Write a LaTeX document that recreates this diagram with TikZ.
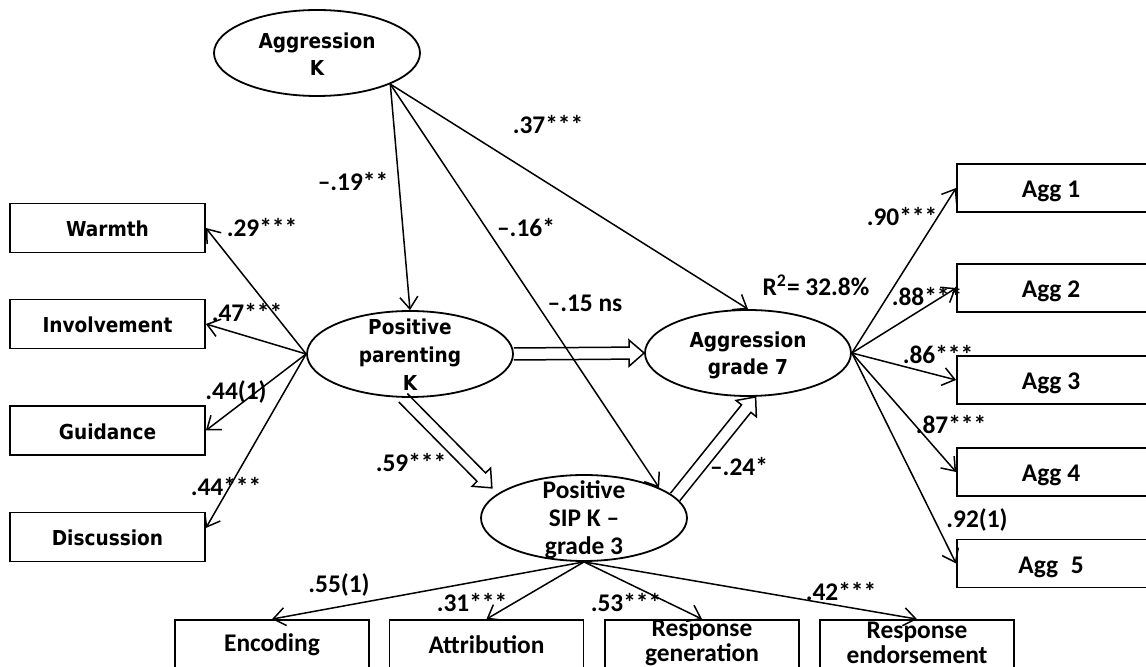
\documentclass[tikz,border=0pt]{standalone}
\usepackage{fontspec}
\setmainfont{Carlito}
\newfontfamily\tahfont{DejaVu Sans Condensed Bold}
\usetikzlibrary{shapes.geometric,arrows.meta,calc}

% open block arrow from #1 to #2 (shaft half width 3pt, head half width 6.5pt, head length 7.5pt)
\newcommand\hollowarrow[2]{%
  \draw[hollow] let \p1=(#1), \p2=(#2),
    \n1={atan2(\y2-\y1,\x2-\x1)}, \n2={veclen(\x2-\x1,\y2-\y1)} in
    [shift={(\p1)}, rotate=\n1]
    (0pt,3pt) -- ({\n2-7.5pt},3pt) -- ({\n2-7.5pt},6.5pt) -- ({\n2},0pt)
    -- ({\n2-7.5pt},-6.5pt) -- ({\n2-7.5pt},-3pt) -- (0pt,-3pt);}

\begin{document}
\begin{tikzpicture}[x=0.5pt,y=-0.5pt,
  every node/.style={inner sep=0pt},
  latent/.style={draw, ellipse, line width=0.9pt, minimum width=103pt, minimum height=43pt},
  latenttext/.style={align=center, font=\tahfont\fontsize{10.3}{14}\selectfont},
  siptext/.style={align=center, font=\bfseries\fontsize{12.7}{14}\selectfont},
  indbox/.style={draw, line width=0.9pt, minimum width=97.5pt, minimum height=24.5pt,
    text height=10pt, text depth=1pt, font=\tahfont\fontsize{10.3}{12}\selectfont},
  aggbox/.style={draw, line width=0.9pt, minimum width=105pt, minimum height=24pt,
    text height=11pt, text depth=1pt, font=\bfseries\fontsize{12.7}{14}\selectfont},
  sipbox/.style={draw, line width=0.9pt, minimum width=97pt, minimum height=28pt},
  siplabel/.style={align=center, font=\bfseries\fontsize{12.7}{12.3}\selectfont},
  coef/.style={font=\bfseries\fontsize{12.7}{14}\selectfont},
  link/.style={line width=0.75pt, -{Straight Barb[length=6pt,width=9pt]}},
  hollow/.style={line width=0.75pt, line join=miter}
]
\useasboundingbox (0,0) rectangle (1146,667);
\fill[white] (0,0) rectangle (1146,667);
\clip (0,0) rectangle (1146,667);

% latent variables
\node[latent] (aggk) at (317,53) {};
\node[latenttext] at (317,54) {Aggression\\[-0.5pt]K};
\node[latent] (pp) at (410,354) {};
\node[latenttext] at (410,355) {Positive\\parenting\\K};
\node[latent] (ag7) at (748,353) {};
\node[latenttext] at (748,355) {Aggression\\[-0.5pt]grade 7};
\node[latent] (sip) at (584,518) {};
\node[siptext] at (584,520) {Positive\\SIP K –\\grade 3};

% parenting indicators
\node[indbox] (warm) at (107.5,228) {Warmth};
\node[indbox] (inv) at (107.5,324) {Involvement};
\node[indbox] (guid) at (107.5,430.5) {Guidance};
\node[indbox] (disc) at (107.5,537) {Discussion};

% aggression indicators (boxes run past the right edge, text kept left of centre)
\node[aggbox] (a1) at (1062,188) {\hspace*{-11pt}Agg 1};
\node[aggbox] (a2) at (1062,288) {\hspace*{-11pt}Agg 2};
\node[aggbox] (a3) at (1062,380) {\hspace*{-11pt}Agg 3};
\node[aggbox] (a4) at (1062,472) {\hspace*{-11pt}Agg 4};
\node[aggbox] (a5) at (1062,563.5) {\hspace*{-11pt}Agg\enspace5};

% SIP indicators (boxes run past the bottom edge)
\node[sipbox] (enc) at (272,648) {};
\node[sipbox] (att) at (486.5,648) {};
\node[sipbox] (rgen) at (702,648) {};
\node[sipbox] (rend) at (917,648) {};
\node[siplabel] at (272,645) {Encoding};
\node[siplabel] at (486.5,645) {Attribution};
\node[siplabel] at (702,643) {Response\\generation};
\node[siplabel] at (917,643) {Response\\endorsement};

% structural paths
\draw[link] (aggk.-23.4) -- (pp.north);
\draw[link] (aggk.-23.4) -- (sip.22);
\draw[link] (aggk.-23.4) -- (ag7.north);
\coordinate (sipin) at (492,488);
\hollowarrow{pp.east}{ag7.west}
\hollowarrow{pp.-99}{sipin}
\hollowarrow{sip.13}{ag7.-80}

% measurement paths
\draw[link] (pp.west) -- (warm.east);
\draw[link] (pp.west) -- (inv.east);
\draw[link] (pp.west) -- (guid.east);
\draw[link] (pp.west) -- ([yshift=4.5pt]disc.east);
\foreach \b in {a1,a2,a3,a4,a5} \draw[link] (ag7.east) -- (\b.west);
\foreach \b in {enc,att,rgen,rend} \draw[link] (sip.south) -- (\b.north);

% coefficients
\node[coef] at (353,182) {–.19**};
\node[coef] at (262,228) {.29***};
\node[coef] at (548,125) {.37***};
\node[coef] at (526,228) {–.16*};
\node[coef] at (585,303) {–.15 ns};
\node[coef] at (247,313) {.47***};
\node[coef] at (236,392) {.44(1)};
\node[coef] at (226,487) {.44***};
\node[coef] at (411,463) {.59***};
\node[coef] at (739,467) {–.24*};
\node[coef] at (816,285) {R\textsuperscript{2}= 32.8\%};
\node[coef] at (902,217) {.90***};
\node[coef] at (927,297) {.88***};
\node[coef] at (938,355) {.86***};
\node[coef] at (951,425) {.87***};
\node[coef] at (977,520) {.92(1)};
\node[coef] at (841,592) {.42***};
\node[coef] at (626,603) {.53***};
\node[coef] at (472,603) {.31***};
\node[coef] at (339,585) {.55(1)};
\end{tikzpicture}
\end{document}
